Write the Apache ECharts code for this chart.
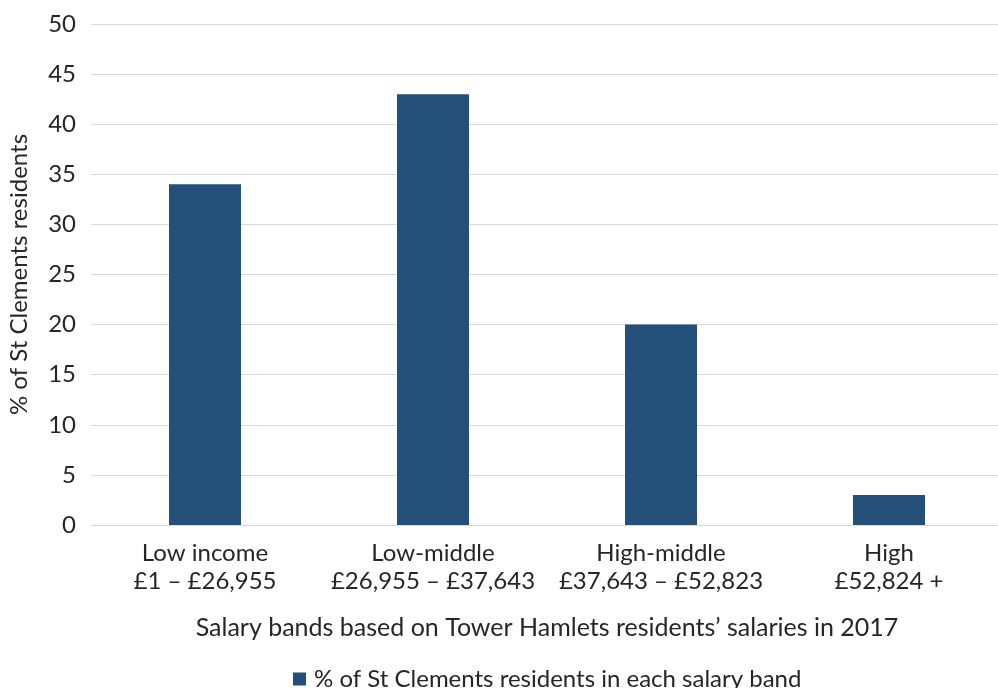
<!DOCTYPE html>
<html>
<head>
<meta charset="utf-8">
<script src="https://cdn.jsdelivr.net/npm/echarts@6/dist/echarts.min.js"></script>
<style>html,body{margin:0;padding:0;background:#fff;}#c{width:998px;height:688px;}</style>
</head>
<body>
<div id="c"></div>
<script>
const categories = ['Low income\n£1 – £26,955', 'Low-middle\n£26,955 – £37,643', 'High-middle\n£37,643 – £52,823', 'High\n£52,824 +'];
const values = [34, 43, 20, 3];
const seriesName = '% of St Clements residents in each salary band';
const xTitle = 'Salary bands based on Tower Hamlets residents’ salaries in 2017';
const yTitle = '% of St Clements residents';
const yTicks = [0, 50, 5];

const chart = echarts.init(document.getElementById('c'), null, {renderer: 'canvas'});
chart.setOption({
  animation: false,
  backgroundColor: '#fff',
  grid: {left: 91, right: -5, top: 24, bottom: 163, containLabel: false, outerBoundsMode: 'none'},
  legend: {
    data: [seriesName],
    left: 288, top: 662,
    itemWidth: 13, itemHeight: 13,
    icon: 'rect',
    textStyle: {fontFamily: 'Lato', fontSize: 24, color: '#262626', padding: [0, 0, 0, 3]}
  },
  xAxis: {
    type: 'category',
    data: categories,
    axisLine: {show: true, lineStyle: {color: '#D9D9D9', width: 1}},
    axisTick: {show: false},
    axisLabel: {fontFamily: 'Lato', fontSize: 24, color: '#262626', lineHeight: 28, margin: 14, interval: 0},
    name: xTitle,
    nameLocation: 'middle',
    nameGap: 90,
    nameTextStyle: {fontFamily: 'Lato', fontSize: 25, color: '#262626'}
  },
  yAxis: {
    type: 'value',
    min: yTicks[0], max: yTicks[1], interval: yTicks[2],
    axisLine: {show: false},
    axisTick: {show: false},
    splitLine: {lineStyle: {color: '#D9D9D9', width: 1}},
    axisLabel: {fontFamily: 'Lato', fontSize: 24, color: '#262626', margin: 15},
    name: yTitle,
    nameLocation: 'middle',
    nameGap: 60,
    nameRotate: 90,
    nameTextStyle: {fontFamily: 'Lato', fontSize: 24, color: '#262626'}
  },
  series: [{
    name: seriesName,
    type: 'bar',
    data: values,
    barWidth: 72,
    itemStyle: {color: '#234F78'}
  }]
});
</script>
</body>
</html>
